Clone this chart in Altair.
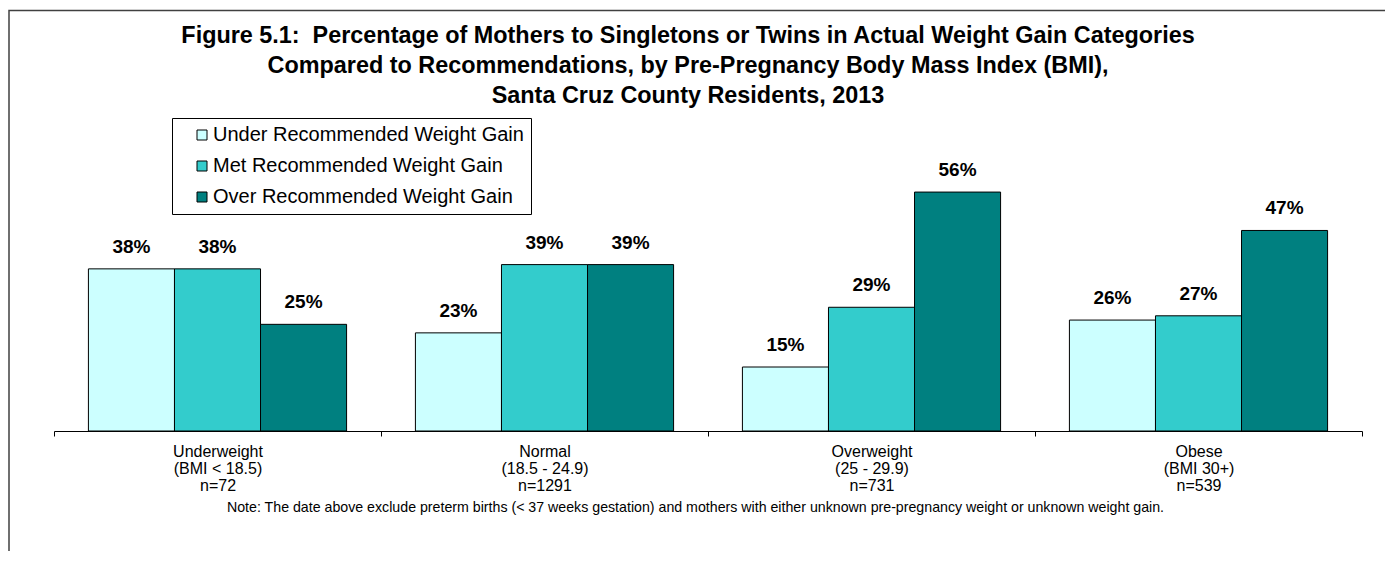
import altair as alt
import pandas as pd

categories = ["Underweight", "Normal", "Overweight", "Obese"]
bmi_ranges = ["(BMI < 18.5)", "(18.5 - 24.9)", "(25 - 29.9)", "(BMI 30+)"]
n_counts = [72, 1291, 731, 539]
series = ["Under Recommended Weight Gain", "Met Recommended Weight Gain", "Over Recommended Weight Gain"]
under = [38, 23, 15, 26]
met = [38, 39, 29, 27]
over = [25, 39, 56, 47]
colors = ["#CCFFFF", "#33CCCC", "#008080"]
title_lines = ["Figure 5.1:\u00a0 Percentage of Mothers to Singletons or Twins in Actual Weight Gain Categories",
               "Compared to Recommendations, by Pre-Pregnancy Body Mass Index (BMI),",
               "Santa Cruz County Residents, 2013"]
note = ("Note: The date above exclude preterm births (< 37 weeks gestation) and mothers with either "
        "unknown pre-pregnancy weight or unknown weight gain.")

labels = [f"{c}|{b}|n={n}" for c, b, n in zip(categories, bmi_ranges, n_counts)]
rows = []
for s, vals in zip(series, [under, met, over]):
    for lab, v in zip(labels, vals):
        rows.append({"category": lab, "series": s, "value": v})
df = pd.DataFrame(rows)

FONT = "Liberation Sans"
W, H = 1308, 256
PAD_RIGHT = "\u00a0" * 4

x_enc = alt.X("category:N", sort=labels,
              scale=alt.Scale(paddingInner=0, paddingOuter=0),
              axis=alt.Axis(title=note, labelExpr="split(datum.label, '|')",
                            labelAngle=0, labelFontSize=16, labelFont=FONT, labelColor="black",
                            labelLineHeight=17, labelPadding=7, labelBaseline="top",
                            tickBand="extent", tickSize=5, tickColor="black", domainColor="black",
                            titleFont=FONT, titleFontSize=14.2, titleFontWeight="normal",
                            titleColor="black", titleX=641, titleY=76, titleAlign="center",
                            titleBaseline="middle"))
xo_enc = alt.XOffset("series:N", sort=series, scale=alt.Scale(paddingInner=0, paddingOuter=0.4))
y_enc = alt.Y("value:Q", scale=alt.Scale(domain=[0, 60]), axis=None)

bars = alt.Chart(df).mark_bar(stroke="black", strokeWidth=1).encode(
    x=x_enc, xOffset=xo_enc, y=y_enc,
    color=alt.Color("series:N", sort=series,
                    scale=alt.Scale(domain=series, range=colors),
                    legend=alt.Legend(title=None, orient="none", legendX=118, legendY=-57,
                                      strokeColor="black", padding=7, rowPadding=11,
                                      symbolType="square", symbolSize=100,
                                      symbolStrokeColor="black", symbolStrokeWidth=1,
                                      labelFont=FONT, labelFontSize=20, labelColor="black",
                                      labelExpr=f"datum.label + '{PAD_RIGHT}'",
                                      labelLimit=700, symbolOffset=13, labelOffset=1)),
)

texts = alt.Chart(df).transform_calculate(pct="datum.value + '%'").mark_text(
    font=FONT, fontSize=19, fontWeight="bold", baseline="alphabetic", dy=-16, color="black").encode(
    x=alt.X("category:N", sort=labels), xOffset=alt.XOffset("series:N", sort=series),
    y=alt.Y("value:Q"), text="pct:N",
)

title = alt.Chart(alt.Data(values=[{"t": "\n".join(title_lines)}])).mark_text(
    font=FONT, fontSize=23.4, fontWeight="bold", color="black", align="center",
    baseline="alphabetic", lineBreak="\n", lineHeight=30).encode(
    text="t:N", x=alt.value(634), y=alt.value(-132))

border = alt.Chart(alt.Data(values=[{}])).mark_rect(fill=None, stroke="#404040", strokeWidth=1.5).encode(
    x=alt.value(-45), x2=alt.value(1500), y=alt.value(-164.5), y2=alt.value(600)
)

chart = alt.layer(border, title, bars, texts).properties(
    width=W, height=H,
    autosize=alt.AutoSizeParams(type="none"),
    padding={"left": 46, "top": 167, "right": 23, "bottom": 120},
).configure_view(stroke=None)

chart.save("out.html", embed_options={"renderer": "svg", "actions": False})
